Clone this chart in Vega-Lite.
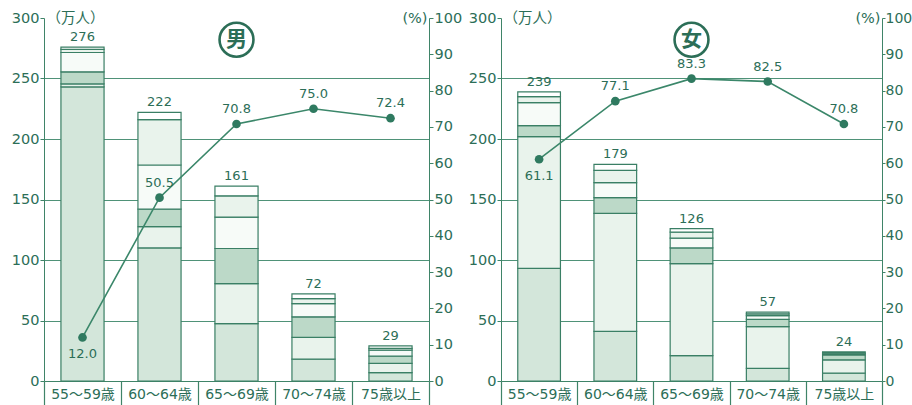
{
  "$schema": "https://vega.github.io/schema/vega-lite/v6.json",
  "background": "white",
  "padding": {"left": 11, "top": 10, "right": 0, "bottom": 0},
  "spacing": 6,
  "config": {
    "view": {"stroke": null},
    "font": "DejaVu Sans",
    "axis": {
      "labelColor": "#2c6e57",
      "titleColor": "#2c6e57",
      "domainColor": "#3f8468",
      "tickColor": "#3f8468",
      "labelFont": "DejaVu Sans, Noto Sans CJK JP",
      "titleFont": "DejaVu Sans, Noto Sans CJK JP",
      "titleFontWeight": "normal"
    },
    "axisX": {"title": null, "labelAngle": 0, "tickBand": "extent", "tickSize": 24, "labelPadding": -18, "labelFontSize": 14, "labelBaseline": "top", "domainColor": "#3f8468", "tickColor": "#3f8468", "tickWidth": 1.2}
  },
  "datasets": {
    "segs": [
      {"sex": "男", "age": "55～59歳", "kind": "正規", "k": 1, "value": 243},
      {"sex": "男", "age": "55～59歳", "kind": "パート", "k": 2, "value": 2.5},
      {"sex": "男", "age": "55～59歳", "kind": "契約社員", "k": 3, "value": 10},
      {"sex": "男", "age": "55～59歳", "kind": "アルバイト", "k": 4, "value": 16},
      {"sex": "男", "age": "55～59歳", "kind": "嘱託", "k": 5, "value": 2.5},
      {"sex": "男", "age": "55～59歳", "kind": "その他", "k": 6, "value": 2},
      {"sex": "男", "age": "60～64歳", "kind": "正規", "k": 1, "value": 110},
      {"sex": "男", "age": "60～64歳", "kind": "パート", "k": 2, "value": 17.5},
      {"sex": "男", "age": "60～64歳", "kind": "契約社員", "k": 3, "value": 14.5},
      {"sex": "男", "age": "60～64歳", "kind": "アルバイト", "k": 4, "value": 36.5},
      {"sex": "男", "age": "60～64歳", "kind": "嘱託", "k": 5, "value": 37.5},
      {"sex": "男", "age": "60～64歳", "kind": "その他", "k": 6, "value": 6},
      {"sex": "男", "age": "65～69歳", "kind": "正規", "k": 1, "value": 47.5},
      {"sex": "男", "age": "65～69歳", "kind": "パート", "k": 2, "value": 33},
      {"sex": "男", "age": "65～69歳", "kind": "契約社員", "k": 3, "value": 29},
      {"sex": "男", "age": "65～69歳", "kind": "アルバイト", "k": 4, "value": 26},
      {"sex": "男", "age": "65～69歳", "kind": "嘱託", "k": 5, "value": 17.5},
      {"sex": "男", "age": "65～69歳", "kind": "その他", "k": 6, "value": 8},
      {"sex": "男", "age": "70～74歳", "kind": "正規", "k": 1, "value": 18},
      {"sex": "男", "age": "70～74歳", "kind": "パート", "k": 2, "value": 18},
      {"sex": "男", "age": "70～74歳", "kind": "契約社員", "k": 3, "value": 17},
      {"sex": "男", "age": "70～74歳", "kind": "アルバイト", "k": 4, "value": 11},
      {"sex": "男", "age": "70～74歳", "kind": "嘱託", "k": 5, "value": 4},
      {"sex": "男", "age": "70～74歳", "kind": "その他", "k": 6, "value": 4},
      {"sex": "男", "age": "75歳以上", "kind": "正規", "k": 1, "value": 7},
      {"sex": "男", "age": "75歳以上", "kind": "パート", "k": 2, "value": 7.5},
      {"sex": "男", "age": "75歳以上", "kind": "契約社員", "k": 3, "value": 6},
      {"sex": "男", "age": "75歳以上", "kind": "アルバイト", "k": 4, "value": 5},
      {"sex": "男", "age": "75歳以上", "kind": "嘱託", "k": 5, "value": 1.5},
      {"sex": "男", "age": "75歳以上", "kind": "その他", "k": 6, "value": 2},
      {"sex": "女", "age": "55～59歳", "kind": "正規", "k": 1, "value": 93},
      {"sex": "女", "age": "55～59歳", "kind": "パート", "k": 2, "value": 109},
      {"sex": "女", "age": "55～59歳", "kind": "契約社員", "k": 3, "value": 9},
      {"sex": "女", "age": "55～59歳", "kind": "アルバイト", "k": 4, "value": 19},
      {"sex": "女", "age": "55～59歳", "kind": "嘱託", "k": 5, "value": 5},
      {"sex": "女", "age": "55～59歳", "kind": "その他", "k": 6, "value": 4},
      {"sex": "女", "age": "60～64歳", "kind": "正規", "k": 1, "value": 41},
      {"sex": "女", "age": "60～64歳", "kind": "パート", "k": 2, "value": 97.5},
      {"sex": "女", "age": "60～64歳", "kind": "契約社員", "k": 3, "value": 13},
      {"sex": "女", "age": "60～64歳", "kind": "アルバイト", "k": 4, "value": 12.5},
      {"sex": "女", "age": "60～64歳", "kind": "嘱託", "k": 5, "value": 10},
      {"sex": "女", "age": "60～64歳", "kind": "その他", "k": 6, "value": 5},
      {"sex": "女", "age": "65～69歳", "kind": "正規", "k": 1, "value": 21},
      {"sex": "女", "age": "65～69歳", "kind": "パート", "k": 2, "value": 76},
      {"sex": "女", "age": "65～69歳", "kind": "契約社員", "k": 3, "value": 13},
      {"sex": "女", "age": "65～69歳", "kind": "アルバイト", "k": 4, "value": 8},
      {"sex": "女", "age": "65～69歳", "kind": "嘱託", "k": 5, "value": 5},
      {"sex": "女", "age": "65～69歳", "kind": "その他", "k": 6, "value": 3},
      {"sex": "女", "age": "70～74歳", "kind": "正規", "k": 1, "value": 10.5},
      {"sex": "女", "age": "70～74歳", "kind": "パート", "k": 2, "value": 34.5},
      {"sex": "女", "age": "70～74歳", "kind": "契約社員", "k": 3, "value": 6},
      {"sex": "女", "age": "70～74歳", "kind": "アルバイト", "k": 4, "value": 3},
      {"sex": "女", "age": "70～74歳", "kind": "嘱託", "k": 5, "value": 1.5},
      {"sex": "女", "age": "70～74歳", "kind": "その他", "k": 6, "value": 1.5},
      {"sex": "女", "age": "75歳以上", "kind": "正規", "k": 1, "value": 6.5},
      {"sex": "女", "age": "75歳以上", "kind": "パート", "k": 2, "value": 11},
      {"sex": "女", "age": "75歳以上", "kind": "契約社員", "k": 3, "value": 4},
      {"sex": "女", "age": "75歳以上", "kind": "アルバイト", "k": 4, "value": 1},
      {"sex": "女", "age": "75歳以上", "kind": "嘱託", "k": 5, "value": 0.5},
      {"sex": "女", "age": "75歳以上", "kind": "その他", "k": 6, "value": 1}
    ],
    "rates": [
      {"sex": "男", "age": "55～59歳", "rate": 12.0},
      {"sex": "男", "age": "60～64歳", "rate": 50.5},
      {"sex": "男", "age": "65～69歳", "rate": 70.8},
      {"sex": "男", "age": "70～74歳", "rate": 75.0},
      {"sex": "男", "age": "75歳以上", "rate": 72.4},
      {"sex": "女", "age": "55～59歳", "rate": 61.1},
      {"sex": "女", "age": "60～64歳", "rate": 77.1},
      {"sex": "女", "age": "65～69歳", "rate": 83.3},
      {"sex": "女", "age": "70～74歳", "rate": 82.5},
      {"sex": "女", "age": "75歳以上", "rate": 70.8}
    ],
    "sexes": [{"sex": "男"}, {"sex": "女"}]
  },
  "hconcat": [
    {
      "width": 385,
      "height": 363,
      "layer": [
        {
          "layer": [
            {
              "data": {"name": "segs"},
              "transform": [{"filter": "datum.sex === '男'"}],
              "mark": {"type": "bar", "width": {"band": 0.56}, "stroke": "#3a7f65", "strokeWidth": 1.2},
              "encoding": {
                "x": {"field": "age", "type": "ordinal", "title": null, "scale": {"domain": ["55～59歳", "60～64歳", "65～69歳", "70～74歳", "75歳以上"], "paddingInner": 0, "paddingOuter": 0}},
                "y": {"field": "value", "type": "quantitative", "stack": "zero", "scale": {"domain": [0, 300]},
                  "axis": {"orient": "left", "values": [0, 50, 100, 150, 200, 250, 300], "tickSize": 4, "labelPadding": 1, "labelFontSize": 14.5,
                    "grid": true, "gridColor": "#4f9278", "gridWidth": 1,
                    "gridOpacity": {"condition": {"test": "datum.value >= 300 || datum.value <= 0", "value": 0}, "value": 1},
                    "title": "（万人）", "titleAngle": 0, "titleX": 2, "titleY": 0, "titleAlign": "left", "titleBaseline": "middle", "titleFontSize": 14.5}},
                "color": {"field": "kind", "type": "nominal", "legend": null,
                  "scale": {"domain": ["正規", "パート", "契約社員", "アルバイト", "嘱託", "その他"], "range": ["#d3e6da", "#e9f3ec", "#bcd9c8", "#f7fbf8", "#e9f3ec", "#ffffff"]}},
                "order": {"field": "k", "type": "quantitative"}
              }
            },
            {
              "data": {"name": "segs"},
              "transform": [{"filter": "datum.sex === '男'"}, {"aggregate": [{"op": "sum", "field": "value", "as": "total"}], "groupby": ["age"]}],
              "mark": {"type": "text", "dy": -10, "fontSize": 13, "color": "#2c6e57"},
              "encoding": {
                "x": {"field": "age", "type": "ordinal", "title": null},
                "y": {"field": "total", "type": "quantitative"},
                "text": {"field": "total", "type": "quantitative", "format": "d"}
              }
            },
            {
              "data": {"name": "sexes"},
              "transform": [{"filter": "datum.sex === '男'"}],
              "mark": {"type": "point", "shape": "circle", "size": 1150, "filled": false, "stroke": "#2c6e57", "strokeWidth": 2.6, "opacity": 1},
              "encoding": {
                "x": {"datum": "65～69歳", "type": "ordinal", "title": null},
                "y": {"datum": 282, "type": "quantitative"}
              }
            },
            {
              "data": {"name": "sexes"},
              "transform": [{"filter": "datum.sex === '男'"}],
              "mark": {"type": "text", "font": "Noto Sans CJK JP", "fontWeight": "bold", "fontSize": 21, "color": "#2c6e57", "baseline": "middle"},
              "encoding": {
                "x": {"datum": "65～69歳", "type": "ordinal", "title": null},
                "y": {"datum": 282, "type": "quantitative"},
                "text": {"field": "sex"}
              }
            }
          ]
        },
        {
          "data": {"name": "rates"},
          "transform": [{"filter": "datum.sex === '男'"}],
          "encoding": {
            "x": {"field": "age", "type": "ordinal", "title": null},
            "y": {"field": "rate", "type": "quantitative", "scale": {"domain": [0, 100]},
              "axis": {"orient": "right", "values": [0, 10, 20, 30, 40, 50, 60, 70, 80, 90, 100], "tickSize": 4, "labelPadding": 1, "labelFontSize": 14.5, "grid": false,
                "title": "(%)", "titleAngle": 0, "titleX": -2, "titleY": 0, "titleAlign": "right", "titleBaseline": "middle", "titleFontSize": 14.5}}
          },
          "layer": [
            {"mark": {"type": "line", "color": "#3b876a", "strokeWidth": 1.6}},
            {"mark": {"type": "point", "filled": true, "size": 75, "color": "#2f7a60", "opacity": 1}},
            {"transform": [{"filter": "datum.age === '55～59歳'"}], "mark": {"type": "text", "dy": 17, "fontSize": 13, "color": "#2c6e57"}, "encoding": {"text": {"field": "rate", "type": "quantitative", "format": ".1f"}}},
            {"transform": [{"filter": "datum.age !== '55～59歳'"}], "mark": {"type": "text", "dy": -15, "fontSize": 13, "color": "#2c6e57"}, "encoding": {"text": {"field": "rate", "type": "quantitative", "format": ".1f"}}}
          ]
        }
      ],
      "resolve": {"scale": {"y": "independent"}, "axis": {"y": "independent"}}
    },
    {
      "width": 381,
      "height": 363,
      "layer": [
        {
          "layer": [
            {
              "data": {"name": "segs"},
              "transform": [{"filter": "datum.sex === '女'"}],
              "mark": {"type": "bar", "width": {"band": 0.56}, "stroke": "#3a7f65", "strokeWidth": 1.2},
              "encoding": {
                "x": {"field": "age", "type": "ordinal", "title": null, "scale": {"domain": ["55～59歳", "60～64歳", "65～69歳", "70～74歳", "75歳以上"], "paddingInner": 0, "paddingOuter": 0}},
                "y": {"field": "value", "type": "quantitative", "stack": "zero", "scale": {"domain": [0, 300]},
                  "axis": {"orient": "left", "values": [0, 50, 100, 150, 200, 250, 300], "tickSize": 4, "labelPadding": 1, "labelFontSize": 14.5,
                    "grid": true, "gridColor": "#4f9278", "gridWidth": 1,
                    "gridOpacity": {"condition": {"test": "datum.value >= 300 || datum.value <= 0", "value": 0}, "value": 1},
                    "title": "（万人）", "titleAngle": 0, "titleX": 2, "titleY": 0, "titleAlign": "left", "titleBaseline": "middle", "titleFontSize": 14.5}},
                "color": {"field": "kind", "type": "nominal", "legend": null,
                  "scale": {"domain": ["正規", "パート", "契約社員", "アルバイト", "嘱託", "その他"], "range": ["#d3e6da", "#e9f3ec", "#bcd9c8", "#f7fbf8", "#e9f3ec", "#ffffff"]}},
                "order": {"field": "k", "type": "quantitative"}
              }
            },
            {
              "data": {"name": "segs"},
              "transform": [{"filter": "datum.sex === '女'"}, {"aggregate": [{"op": "sum", "field": "value", "as": "total"}], "groupby": ["age"]}],
              "mark": {"type": "text", "dy": -10, "fontSize": 13, "color": "#2c6e57"},
              "encoding": {
                "x": {"field": "age", "type": "ordinal", "title": null},
                "y": {"field": "total", "type": "quantitative"},
                "text": {"field": "total", "type": "quantitative", "format": "d"}
              }
            },
            {
              "data": {"name": "sexes"},
              "transform": [{"filter": "datum.sex === '女'"}],
              "mark": {"type": "point", "shape": "circle", "size": 1150, "filled": false, "stroke": "#2c6e57", "strokeWidth": 2.6, "opacity": 1},
              "encoding": {
                "x": {"datum": "65～69歳", "type": "ordinal", "title": null},
                "y": {"datum": 282, "type": "quantitative"}
              }
            },
            {
              "data": {"name": "sexes"},
              "transform": [{"filter": "datum.sex === '女'"}],
              "mark": {"type": "text", "font": "Noto Sans CJK JP", "fontWeight": "bold", "fontSize": 21, "color": "#2c6e57", "baseline": "middle"},
              "encoding": {
                "x": {"datum": "65～69歳", "type": "ordinal", "title": null},
                "y": {"datum": 282, "type": "quantitative"},
                "text": {"field": "sex"}
              }
            }
          ]
        },
        {
          "data": {"name": "rates"},
          "transform": [{"filter": "datum.sex === '女'"}],
          "encoding": {
            "x": {"field": "age", "type": "ordinal", "title": null},
            "y": {"field": "rate", "type": "quantitative", "scale": {"domain": [0, 100]},
              "axis": {"orient": "right", "values": [0, 10, 20, 30, 40, 50, 60, 70, 80, 90, 100], "tickSize": 3, "labelPadding": 0, "labelFontSize": 14, "grid": false,
                "title": "(%)", "titleAngle": 0, "titleX": -2, "titleY": 0, "titleAlign": "right", "titleBaseline": "middle", "titleFontSize": 14.5}}
          },
          "layer": [
            {"mark": {"type": "line", "color": "#3b876a", "strokeWidth": 1.6}},
            {"mark": {"type": "point", "filled": true, "size": 75, "color": "#2f7a60", "opacity": 1}},
            {"transform": [{"filter": "datum.age === '55～59歳'"}], "mark": {"type": "text", "dy": 17, "fontSize": 13, "color": "#2c6e57"}, "encoding": {"text": {"field": "rate", "type": "quantitative", "format": ".1f"}}},
            {"transform": [{"filter": "datum.age !== '55～59歳'"}], "mark": {"type": "text", "dy": -15, "fontSize": 13, "color": "#2c6e57"}, "encoding": {"text": {"field": "rate", "type": "quantitative", "format": ".1f"}}}
          ]
        }
      ],
      "resolve": {"scale": {"y": "independent"}, "axis": {"y": "independent"}}
    }
  ]
}
